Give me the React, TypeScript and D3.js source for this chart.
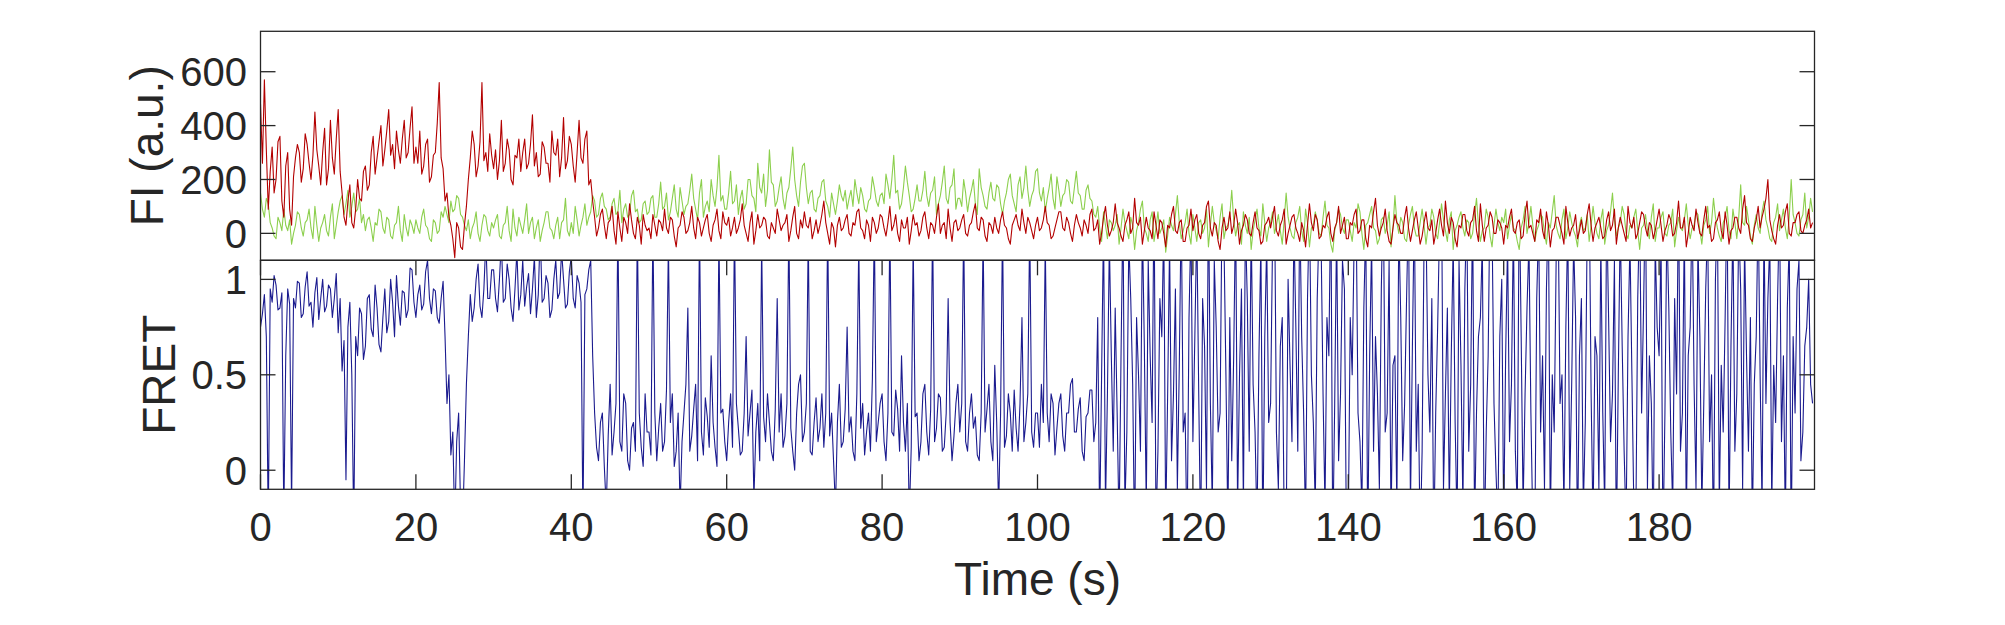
import React from 'react';
import * as d3 from 'd3';

// sample spacing of the traces (s)
const dt = 0.25;

// acceptor intensity (red), a.u. - one row per 10 s
const acceptor = [
  480, 260, 570, 310, 90, 230, 320, 150, 200, 340, 360, 120, 60, 250, 300, 90, 30, 210, 280, 330, 300, 190, 240, 370, 330, 260, 200, 290, 450, 310, 250, 180, 300, 390, 180, 240, 420, 280, 220, 350,
  460, 230, 150, 60, 30, 120, 180, 40, 20, 90, 200, 130, 120, 230, 250, 160, 180, 300, 360, 220, 280, 340, 400, 250, 310, 380, 460, 290, 330, 240, 380, 310, 260, 350, 420, 280, 300, 390, 470, 260,
  320, 260, 380, 220, 250, 330, 350, 190, 210, 290, 300, 410, 560, 280, 240, 120, 150, 60, 30, -20, -90, 40, 20, -50, -60, 30, 100, 200, 280, 380, 330, 210, 250, 340, 560, 270, 300, 230, 370, 290,
  240, 310, 200, 270, 420, 230, 260, 350, 310, 200, 180, 290, 280, 350, 230, 300, 350, 240, 260, 330, 440, 250, 300, 210, 220, 340, 320, 260, 260, 190, 380, 300, 290, 350, 210, 280, 430, 240, 270, 360,
  330, 250, 190, 300, 420, 280, 260, 350, 380, 180, 200, 120, 60, -10, 20, 70, 90, 30, -20, 40, 50, 100, 10, -40, 80, 20, -30, 60, 40, 0, 110, 50, 0, -20, 60, 30, -40, 70, 30, 10,
  20, -20, 70, 30, -10, 50, 40, 10, 90, 20, 0, 60, 50, -10, -50, 20, 30, 80, 60, 0, 10, 40, 100, 20, -20, 60, 40, -10, 20, 50, 70, 0, -30, 30, 50, 90, 10, -20, 80, 40,
  30, 60, -10, 20, 60, 0, 20, 50, 110, 30, 0, -30, 40, 80, -40, 10, 70, 20, 30, 60, 50, -10, -20, 40, 20, 0, 90, 50, 10, 30, 40, 70, -30, 10, 60, 100, 0, -20, 50, 20,
  80, 30, 20, 60, -20, 10, 50, 0, 30, 70, 120, 40, 0, -40, 40, 20, -50, 30, 60, 10, 20, 50, 70, 0, -10, 40, 30, 80, 90, 20, 10, -20, 50, 30, -30, 60, 40, 0, 20, 70,
  60, 20, -10, 40, 100, 10, 30, 70, 0, -30, 50, 20, 20, 60, -40, 10, 70, 30, 40, -10, 10, 60, 80, 20, -20, 40, 30, 0, 60, 110, 0, 30, 40, -20, 90, 20, -30, 40, 50, 10,
  20, 50, 70, 0, -10, 30, 40, 80, 110, 20, 10, 60, 50, -10, -30, 40, 30, 0, 60, 20, 0, 50, 80, 30, 20, -20, -40, 30, 50, 70, 30, 10, 90, 40, 0, 60, 40, 10, -20, 30,
  60, 10, 20, 50, 100, 40, 30, -20, -10, 20, 50, 80, 80, 20, 10, 60, 40, 0, -30, 30, 70, 40, 20, -10, 50, 30, 0, 70, 90, 10, 20, 50, -40, 0, 60, 100, 30, -10, 10, 40,
  110, 40, 20, -10, -30, 30, 50, 80, 0, 20, 130, 40, 30, 60, -40, 10, 60, 20, 10, -20, 80, 30, -20, 50, 40, 0, -50, 30, 20, 70, 100, 10, 0, 40, 50, -30, -30, 20, 30, 90,
  10, 50, 70, 0, -20, 30, 40, 100, 120, 20, -10, 40, 30, -30, -60, 20, 60, 10, 20, 80, 0, 30, 90, 40, -40, 10, 30, 70, 50, 0, -10, 40, 80, 20, 10, -40, -30, 30, 40, 60,
  20, 60, 100, 10, -10, 30, 50, 90, -40, 0, 30, 60, 70, 20, 0, -30, 40, 10, -50, 30, 110, 40, 10, 70, 50, -20, -10, 30, 20, 60, 80, 0, -30, 20, 40, 100, 0, 30, 60, -20,
  -20, 40, 30, 70, 90, 0, 10, 50, 50, -20, -50, 30, 20, 80, 130, 30, -10, 20, 40, 90, 10, -30, -40, 20, 70, 40, 30, 0, 0, 60, 100, 20, -30, 10, 50, 80, 20, -40, -10, 40,
  80, 20, 10, 50, -40, 0, 50, 90, 30, -10, 120, 40, 0, 60, 40, -20, -50, 30, 20, 70, 70, 10, -10, 40, 50, 100, 10, -30, 110, 30, -30, 20, 30, 80, 60, 0, 0, 50, 40, 20,
  -40, 30, 20, 60, 90, 10, 0, 40, 50, -20, -10, 70, 120, 20, 30, 0, -30, 50, 40, 90, 10, -20, 80, 30, -50, 10, 20, 60, 60, 30, 0, -40, 100, 40, -10, 20, 30, 70, -20, 10,
  50, 0, 10, 70, 110, 30, -30, 20, 40, 60, 20, -20, -10, 50, 80, 10, 30, 90, -40, 20, 60, 30, 0, -30, 100, 40, 20, 60, -20, 0, 40, 80, 70, 20, -10, 40, 30, -20, 10, 50,
  90, 30, -30, 10, 30, 70, 50, -10, 0, 40, 120, 20, 20, 60, -50, 0, 60, 30, 10, 90, 40, 0, -10, 50, 100, 20, 30, -30, -20, 40, 50, 80, 10, -20, 80, 30, -40, 10, 20, 60,
  60, 20, 0, 90, 140, 40, 30, -20, -30, 20, 50, 100, 20, 60, 90, 130, 200, 50, 10, -20, -40, 30, 70, 20, 30, 80, 110, 0, -10, 40, 40, 70, 80, 10, 0, 30, 50, 90, 20, 40,
];

// donor intensity (green), a.u. - one row per 10 s
const donor = [
  150, 90, 60, 130, 110, 40, 20, -10, -20, 60, 40, 10, 90, 30, 10, 50, -40, 0, 30, 80, 70, 20, -10, 40, 50, 90, 20, -20, 100, 30, -30, 20, 40, 70, 10, -10, 60, 110, -20, 30,
  80, 120, 140, 70, 110, 160, 60, 100, 150, 80, 90, 130, 40, 70, 10, 50, 60, 20, -30, 40, 30, 90, 80, 20, 0, 60, 50, -10, -20, 30, 40, 100, 10, -30, 70, 20, -10, 50, 30, 0,
  50, 20, 0, 60, 90, 30, 20, -20, -30, 50, 40, 0, 10, 80, 60, 100, 70, 40, 120, 80, 90, 140, 130, 70, 60, 30, 10, 50, -20, 20, 40, 80, 0, -30, 30, 70, 60, 10, -10, 40,
  20, 50, 70, -10, -20, 30, 40, 100, 10, -30, 90, 20, -10, 60, 30, 0, 50, 110, 0, 40, 60, -20, 20, 50, -30, 10, 40, 80, 80, 20, 10, -20, 30, 60, -20, 40, 50, 130, 10, -10,
  40, 0, 100, 50, -10, 30, 60, 110, 30, 60, 80, 140, 120, 60, 70, 130, 150, 100, 90, 50, 60, 110, 130, 70, 80, 160, 40, 90, 110, 60, 70, 140, 160, 80, 90, 40, 50, 110, 120, 70,
  80, 130, 140, 60, 60, 110, 190, 90, 100, 150, 50, 80, 130, 180, 90, 60, 170, 120, 70, 100, 110, 160, 220, 130, 90, 50, 150, 200, 60, 100, 120, 80, 200, 140, 100, 170, 290, 120, 140, 90,
  90, 150, 230, 110, 120, 180, 70, 130, 160, 90, 110, 200, 200, 140, 130, 80, 260, 170, 150, 220, 100, 160, 310, 190, 180, 100, 120, 170, 210, 130, 90, 150, 170, 240, 320, 200, 140, 100, 190, 250,
  260, 170, 110, 150, 160, 90, 80, 130, 140, 190, 200, 120, 100, 60, 150, 110, 70, 120, 180, 140, 120, 160, 90, 130, 160, 100, 200, 150, 110, 170, 140, 90, 80, 120, 130, 210, 170, 120, 100, 140,
  150, 110, 220, 180, 130, 200, 290, 150, 160, 90, 110, 170, 250, 190, 140, 80, 90, 130, 180, 120, 120, 160, 230, 140, 100, 150, 160, 210, 70, 110, 140, 190, 250, 130, 110, 170, 180, 240, 90, 130,
  130, 100, 200, 150, 80, 130, 160, 200, 110, 70, 240, 170, 140, 100, 90, 150, 190, 130, 120, 180, 170, 110, 70, 120, 150, 200, 220, 140, 110, 80, 180, 210, 130, 170, 250, 160, 100, 140, 160, 230,
  240, 150, 120, 170, 80, 130, 170, 220, 130, 90, 210, 160, 100, 140, 150, 200, 190, 120, 110, 170, 230, 150, 140, 90, 90, 160, 180, 130, 120, 70, 60, 100, 20, -30, 80, 30, -20, 50, 40, 10,
  30, 70, -40, 20, 90, 40, 10, -20, 60, 30, -60, 10, 40, 90, 120, 20, 0, -30, 50, 80, -30, 20, 80, 0, 20, 50, -70, -10, 60, 30, 10, 70, 140, 40, -20, 10, 40, 90, 0, -40,
  70, 20, -30, 40, 50, 0, 20, 90, -50, 30, 100, 40, 10, -20, 60, 110, -20, 20, 30, 70, 160, 50, -10, 30, 40, -40, 80, 30, 0, 60, -60, 10, 50, 90, 20, -10, 110, 40, -30, 20,
  40, 80, 0, 30, 70, 10, -40, 50, 150, 60, 20, -10, -20, 40, 60, 100, 10, -30, 90, 40, -50, 20, 30, 80, 50, 0, -10, 60, 120, 30, 20, -40, -70, 10, 40, 90, 70, 20, 0, 50,
  50, 10, -30, 40, 20, 110, 80, 0, -60, 30, 40, 70, 100, 20, 10, -40, -20, 50, 60, 0, 30, 80, -50, 20, 140, 40, 0, 60, 40, -20, -30, 30, 70, 100, 20, -10, -10, 40, 90, 30,
  -40, 20, 30, 90, 60, 0, -20, 40, 110, 50, 10, -30, 50, 80, -60, 10, 30, 60, 80, 20, -10, 50, 40, -20, 0, 70, 130, 30, -30, 10, 20, 90, 60, -10, -50, 30, 90, 40, 10, 60,
  40, 90, -20, 30, 70, 20, 10, -30, -60, 20, 50, 100, 0, 40, 100, 30, -30, 10, 30, 70, 60, 0, -40, 40, 20, 80, 140, 30, 0, -20, 50, 90, -20, 20, 80, 40, 10, -10, -50, 30,
  60, 10, 20, 70, -30, 30, 100, 40, 0, -20, 50, 90, -40, 10, 30, 80, 150, 50, -10, 20, 40, 100, 70, 0, -20, 30, 20, 60, 90, 10, -60, 20, 30, 70, 10, -20, 60, 110, -30, 20,
  20, 60, 80, 0, -10, 30, 40, 90, -50, 10, 60, 20, 10, 50, 110, 30, -20, 20, 30, 80, 70, 10, -40, 30, 50, 100, 0, 40, 130, 60, 20, -10, -30, 40, 60, 100, 10, -20, 90, 40,
  -20, 60, 180, 40, 30, 100, 50, -10, -40, 30, 70, 20, 0, 80, 120, 50, 20, -20, -30, 40, 60, 110, 10, 50, 90, 20, -20, 60, 200, 70, 40, 0, -10, 50, 70, 150, 20, 60, 130, 80,
];

// FRET efficiency (blue) - one row per 10 s
const fret = [
  0.75, 0.82, 0.92, 0.7, -0.3, 0.95, 0.88, 1.02, 0.97, 0.84, 0.85, 0.93, -0.25, 0.6, 0.95, 0.87, -0.2, 0.9, 0.85, 0.99, 0.98, 0.8, 0.82, 0.96, 1.04, 0.86, 0.88, 0.75, 0.93, 1.01, 0.79, 0.9, 1.0, 0.83, 0.86, 0.97, 0.95, 0.8, 0.9, 1.03,
  0.72, 0.9, 0.52, 0.68, -0.05, 0.75, 0.88, 0.5, -0.3, 0.7, 0.6, 0.85, 0.82, 0.58, 0.65, 0.9, 0.92, 0.74, 0.7, 0.97, 0.85, 0.66, 0.62, 0.8, 0.95, 0.72, 0.78, 1.0, 0.88, 0.7, 1.02, 0.86, 0.76, 0.94, 0.93, 0.8, 0.84, 1.06, 1.05, 0.88,
  0.8, 0.92, 0.97, 0.84, 0.87, 1.04, 1.1, 0.9, 0.82, 0.95, 0.94, 0.8, 0.77, 0.9, 0.99, 0.7, 0.35, 0.5, 0.08, 0.2, -0.3, 0.15, 0.3, -0.2, -0.3, 0.05, 0.45, 0.7, 0.92, 0.78, 0.85, 1.0, 1.08, 0.86, 0.8, 0.95, 1.2, 0.9, 0.9, 1.05,
  1.05, 0.9, 0.83, 1.0, 1.2, 0.88, 0.9, 1.08, 1.0, 0.85, 0.78, 0.95, 1.15, 0.84, 0.92, 1.1, 0.86, 0.96, 1.03, 0.82, 0.95, 1.12, 0.8, 0.92, 1.25, 0.88, 0.9, 1.02, 0.98, 0.8, 0.84, 1.0, 1.1, 0.9, 0.93, 1.15, 1.0, 0.85, 0.87, 1.04,
  1.12, 0.9, 0.85, 1.02, 0.98, 0.88, -0.3, 0.92, 0.95, 1.05, 1.1, 0.6, 0.3, 0.12, 0.05, 0.25, 0.3, 0.02, -0.2, 0.18, 0.45, 0.08, 0.2, 0.35, 1.3, 0.15, 0.1, 0.4, 0.35, 0.05, 0.0, 0.22, 0.25, 0.1, 1.3, 0.3, 0.12, 0.02, 0.4, 0.2,
  0.2, 0.08, 1.3, 0.3, 0.05, 0.22, 0.35, 0.1, 0.15, 0.42, 1.2, 0.25, 0.4, 0.02, 0.1, 0.3, -0.2, 0.15, 0.3, 0.45, 0.85, 0.1, 0.18, 0.32, 0.45, 0.05, 1.3, 0.2, 0.08, 0.38, 0.28, 0.12, 0.6, 0.25, 0.12, 0.02, 1.25, 0.3, 0.32, 0.15,
  0.05, 0.25, 0.4, 0.12, 1.3, 0.35, 0.22, 0.08, 0.1, 0.3, 0.7, 0.18, 0.3, 0.42, -0.15, 0.2, 0.35, 0.05, 1.2, 0.28, 0.15, 0.4, 0.25, 0.1, 0.05, 0.32, 0.9, 0.2, 0.4, 0.12, 0.18, 0.35, 1.3, 0.22, 0.1, 0.0, 0.3, 0.45, 0.5, 0.15,
  0.2, 0.35, 1.25, 0.1, 0.08, 0.25, 0.38, 0.15, 0.22, 0.4, 0.12, 0.3, 1.3, 0.18, 0.3, 0.05, -0.2, 0.25, 0.45, 0.12, 0.15, 0.32, 0.75, 0.2, 0.28, 0.1, 0.05, 0.4, 1.2, 0.22, 0.35, 0.08, 0.2, 0.3, 0.1, 0.48, 1.3, 0.15, 0.25, 0.35,
  0.4, 0.15, 0.05, 0.3, 1.3, 0.2, 0.18, 0.42, 0.32, 0.1, 0.6, 0.25, 0.1, 0.35, -0.25, 0.12, 1.2, 0.28, 0.3, 0.05, 0.15, 0.4, 0.45, 0.2, 0.08, 0.32, 1.3, 0.15, 0.22, 0.4, 0.38, 0.1, 0.12, 0.3, 0.9, 0.25, 0.05, 0.18, 0.35, 0.45,
  0.2, 0.35, 1.3, 0.15, 0.1, 0.3, 0.4, 0.22, 0.28, 0.08, 0.05, 0.3, 1.25, 0.2, 0.32, 0.45, 0.15, 0.05, 0.55, 0.25, -0.2, 0.3, 1.3, 0.12, 0.18, 0.4, 0.3, 0.1, 0.42, 0.22, 0.1, 0.35, 0.8, 0.15, 0.25, 0.4, 1.3, 0.2, 0.12, 0.3,
  0.3, 0.12, 0.45, 0.25, 1.2, 0.3, 0.15, 0.4, 0.35, 0.08, 0.22, 0.35, 0.4, 0.18, 0.1, 0.3, 0.3, 0.45, 0.48, 0.2, 0.2, 0.32, 0.38, 0.1, 0.05, 0.28, 0.3, 0.42, 0.42, 0.15, 0.25, 0.8, -0.3, 0.5, 1.3, -0.2, 0.4, 1.2, 0.6, 0.1,
  0.85, 0.3, -0.3, 0.6, 1.4, -0.2, 0.2, 1.2, 0.9, 0.45, -0.4, 0.8, 0.5, 0.1, 1.3, 0.65, -0.2, 1.1, 0.6, 0.25, 1.5, -0.3, 0.1, 0.9, 0.7, 1.3, -0.3, 0.4, 1.2, 0.05, 0.4, 0.95, -0.1, 0.55, 1.4, 0.2, 0.3, -0.4, 0.8, 1.3,
  0.15, 0.7, 1.3, 0.4, -0.4, 0.9, 0.65, -0.1, 1.5, 0.35, -0.2, 1.1, 0.75, 0.2, 0.3, 1.4, 1.2, 0.5, -0.3, 0.8, 0.05, 0.6, 1.4, -0.2, 0.5, 0.95, -0.2, 1.3, 0.9, 0.1, 1.3, 0.45, 0.2, -0.3, 0.6, 1.2, -0.4, 0.7, 1.2, 0.25,
  0.35, 1.2, 1.5, 0.2, -0.1, 0.65, 0.8, -0.3, -0.4, 1.0, 0.55, 0.15, 1.3, 0.75, 0.1, 1.4, 0.7, 0.3, -0.3, 0.9, 1.4, 0.5, 0.25, -0.2, 0.9, 1.3, 1.2, 0.4, -0.2, 0.8, 0.6, 1.5, -0.4, 0.35, 1.3, 0.05, 0.4, 1.1, 0.95, -0.3,
  -0.3, 0.8, 0.5, 1.2, 1.4, 0.3, 0.15, -0.2, 0.85, 1.3, -0.4, 0.6, 1.2, 0.1, 0.7, 0.4, -0.1, 0.95, 1.5, 0.2, 0.3, 1.1, -0.3, 0.55, 0.6, -0.2, 1.3, 0.8, 0.05, 0.35, 0.9, 1.4, -0.2, 0.65, 1.4, 0.1, 0.45, -0.4, 0.1, 1.2,
  1.3, 0.5, 0.2, 0.9, -0.4, 0.3, 0.75, 1.3, 1.5, -0.1, 0.4, 0.85, -0.2, 0.6, 1.2, 0.25, -0.3, 1.1, 0.55, -0.2, 0.95, 1.4, 0.1, 0.45, 1.4, -0.3, 0.3, 0.7, 0.8, 1.2, -0.4, 0.2, 0.6, 1.5, 1.3, 0.35, 0.0, -0.3, 0.7, 1.0,
  -0.3, 0.6, 1.2, 0.15, 0.45, 1.3, 0.1, -0.2, 1.5, 0.7, -0.2, 0.4, 0.85, 1.2, 0.3, -0.3, -0.4, 0.9, 1.3, 0.2, 0.6, -0.1, 0.95, 1.4, -0.3, 0.5, 0.2, 1.1, 1.4, 0.35, 0.5, -0.2, 0.75, 1.3, -0.1, 0.45, 1.2, 0.8, -0.4, 0.6,
  0.9, -0.2, 0.25, 1.3, 1.5, 0.4, -0.3, 0.7, 0.6, -0.1, 1.2, 0.3, -0.2, 1.4, 0.8, 0.15, 0.4, 1.1, -0.4, 0.5, 1.3, 0.65, 0.1, -0.3, 0.7, 1.2, 0.5, -0.2, -0.3, 0.9, 1.4, 0.3, 0.85, 1.5, -0.1, 0.6, 0.35, -0.4, 1.2, 0.75,
  0.6, 1.2, -0.4, 0.3, 1.3, 0.85, 0.2, -0.2, 0.9, 0.4, 1.5, 0.1, 0.3, 1.3, -0.3, 0.6, 0.75, 1.4, 0.45, -0.1, 1.2, 0.7, -0.2, 0.35, 0.95, 1.3, 0.15, 0.5, -0.4, 1.0, 1.4, -0.2, 0.55, 0.2, 0.8, 1.5, -0.3, 0.65, 1.3, 0.1,
  0.4, 1.3, 0.95, -0.1, 1.2, 0.6, 0.1, 0.8, -0.3, 0.45, 0.7, 1.4, 0.5, -0.2, 1.3, 0.35, 0.9, 1.2, -0.2, 0.55, 0.25, 0.9, 1.4, 0.15, 0.6, -0.3, 0.85, 1.2, -0.4, 0.7, 0.3, 0.95, 1.1, 0.05, 0.2, 0.65, 0.75, 1.0, 0.45, 0.35,
];

const timeTicks = [0, 20, 40, 60, 80, 100, 120, 140, 160, 180];
const fiTicks = [0, 200, 400, 600];
const fretTicks = [0, 0.5, 1];

const W = 2005;
const H = 625;
const left = 260.5;
const right = 1814.5;
const top = 31.3;
const mid = 260.3;
const bottom = 489.3;
const tickLen = 15;
const axisColor = '#262626';
const font = '"Liberation Sans", Arial, Helvetica, sans-serif';

const App: React.FC = () => {
  const x = d3.scaleLinear().domain([0, 200]).range([left, right]);
  const yFI = d3.scaleLinear().domain([-100, 750]).range([mid, top]);
  const yFret = d3.scaleLinear().domain([-0.1, 1.1]).range([bottom, mid]);

  const fiLine = d3
    .line<number>()
    .x((_, i) => x(i * dt))
    .y(d => yFI(d));
  const fretLine = d3
    .line<number>()
    .x((_, i) => x(i * dt))
    .y(d => yFret(d));

  return (
    <svg
      width={W}
      height={H}
      style={{ position: 'absolute', left: 0, top: 0, background: '#fff' }}
      fontFamily={font}
    >
      <defs>
        <clipPath id="clipTop">
          <rect x={left} y={top} width={right - left} height={mid - top} />
        </clipPath>
        <clipPath id="clipBottom">
          <rect x={left} y={mid} width={right - left} height={bottom - mid} />
        </clipPath>
      </defs>

      {/* traces */}
      <g clipPath="url(#clipTop)" fill="none" strokeWidth={1.1} strokeLinejoin="round">
        <path d={fiLine(donor) || ''} stroke="#8ccf4d" />
        <path d={fiLine(acceptor) || ''} stroke="#b30000" />
      </g>
      <g clipPath="url(#clipBottom)" fill="none" strokeWidth={1.1} strokeLinejoin="round">
        <path d={fretLine(fret) || ''} stroke="#1b1b8f" />
      </g>

      {/* axes boxes */}
      <g stroke={axisColor} strokeWidth={1.3} fill="none">
        <rect x={left} y={top} width={right - left} height={mid - top} />
        <rect x={left} y={mid} width={right - left} height={bottom - mid} />
        {fiTicks.map(t => (
          <g key={`fi${t}`}>
            <line x1={left} x2={left + tickLen} y1={yFI(t)} y2={yFI(t)} />
            <line x1={right} x2={right - tickLen} y1={yFI(t)} y2={yFI(t)} />
          </g>
        ))}
        {fretTicks.map(t => (
          <g key={`fr${t}`}>
            <line x1={left} x2={left + tickLen} y1={yFret(t)} y2={yFret(t)} />
            <line x1={right} x2={right - tickLen} y1={yFret(t)} y2={yFret(t)} />
          </g>
        ))}
        {timeTicks.map(t => (
          <g key={`t${t}`}>
            <line x1={x(t)} x2={x(t)} y1={bottom} y2={bottom - tickLen} />
            <line x1={x(t)} x2={x(t)} y1={mid} y2={mid + tickLen} />
          </g>
        ))}
      </g>

      {/* tick labels */}
      <g fill={axisColor} fontSize={40}>
        {fiTicks.map(t => (
          <text key={`fil${t}`} x={247} y={yFI(t) + 14.5} textAnchor="end">
            {t}
          </text>
        ))}
        {fretTicks.map(t => (
          <text key={`frl${t}`} x={247} y={yFret(t) + 14.5} textAnchor="end">
            {t}
          </text>
        ))}
        {timeTicks.map(t => (
          <text key={`tl${t}`} x={x(t)} y={540.5} textAnchor="middle">
            {t}
          </text>
        ))}
      </g>

      {/* axis labels */}
      <g fill={axisColor} fontSize={46} textAnchor="middle">
        <text x={(left + right) / 2} y={595}>
          Time (s)
        </text>
        <text transform={`translate(163,${(top + mid) / 2}) rotate(-90)`}>FI (a.u.)</text>
        <text transform={`translate(175,${(mid + bottom) / 2}) rotate(-90)`}>FRET</text>
      </g>
    </svg>
  );
};

export default App;
